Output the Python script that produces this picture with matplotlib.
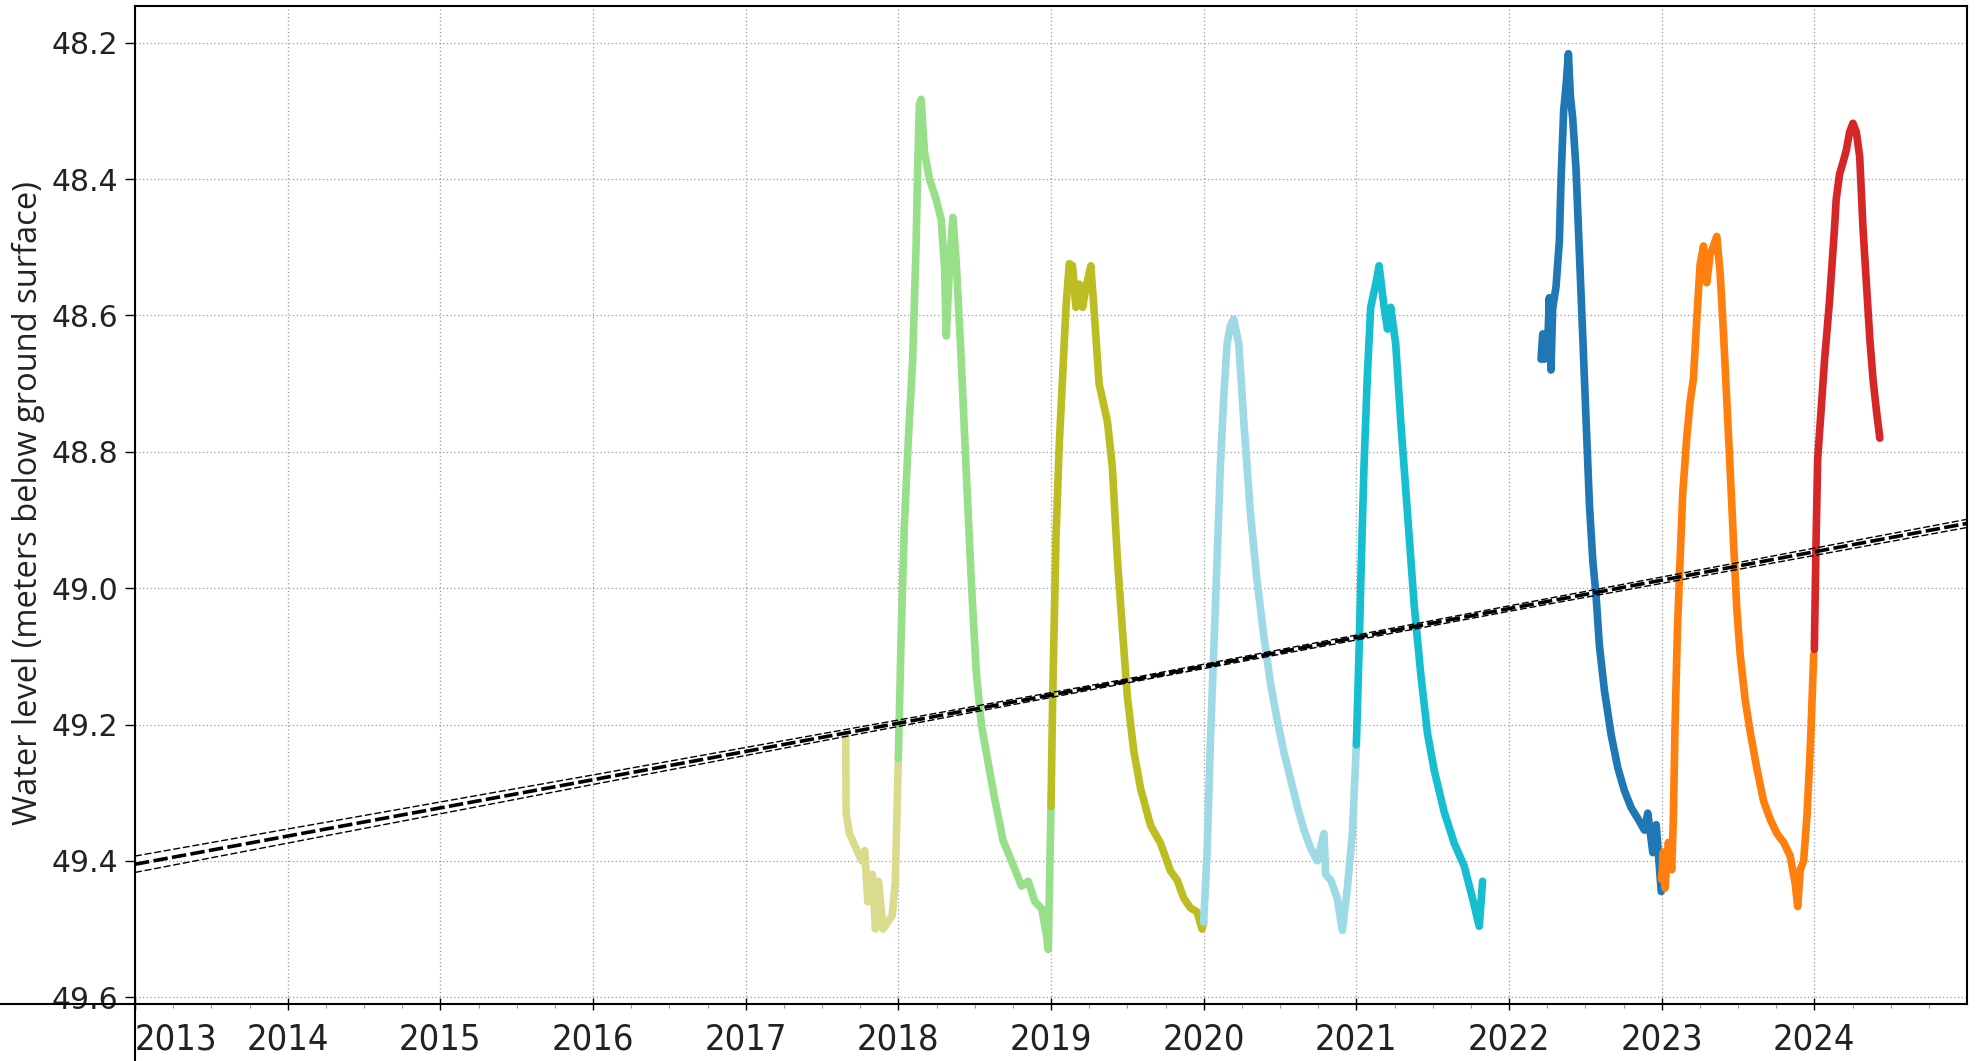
import matplotlib
matplotlib.use("Agg")
import matplotlib.pyplot as plt
from matplotlib.lines import Line2D

# seasonal water-level segments (decimal year, m below ground surface)
khaki_x = [2017.655, 2017.658, 2017.68, 2017.72, 2017.76, 2017.78, 2017.80, 2017.83, 2017.85,
           2017.87, 2017.90, 2017.93, 2017.96, 2017.98, 2018.0]
khaki_y = [49.215, 49.33, 49.36, 49.38, 49.40, 49.385, 49.46, 49.42, 49.50,
           49.43, 49.50, 49.49, 49.48, 49.43, 49.25]

green_x = [2018.0, 2018.018, 2018.039, 2018.066, 2018.094, 2018.116, 2018.127, 2018.138, 2018.149,
           2018.171, 2018.204, 2018.248, 2018.281, 2018.303, 2018.314, 2018.336, 2018.357, 2018.379,
           2018.412, 2018.445, 2018.478, 2018.511, 2018.544, 2018.588, 2018.632, 2018.686, 2018.741,
           2018.807, 2018.851, 2018.895, 2018.939, 2018.971, 2018.982, 2019.0]
green_y = [49.25, 49.075, 48.91, 48.78, 48.665, 48.50, 48.38, 48.29, 48.283,
           48.36, 48.40, 48.43, 48.46, 48.53, 48.63, 48.525, 48.456, 48.52,
           48.665, 48.83, 48.99, 49.125, 49.20, 49.256, 49.31, 49.37, 49.40,
           49.437, 49.43, 49.46, 49.47, 49.51, 49.53, 49.32]

olive_x = [2019.0, 2019.011, 2019.033, 2019.054, 2019.076, 2019.098, 2019.120, 2019.141, 2019.163,
           2019.185, 2019.207, 2019.228, 2019.261, 2019.283, 2019.315, 2019.370, 2019.402, 2019.435,
           2019.467, 2019.5, 2019.543, 2019.587, 2019.652, 2019.717, 2019.783, 2019.826, 2019.870,
           2019.913, 2019.957, 2019.989, 2020.0]
olive_y = [49.32, 49.159, 48.924, 48.79, 48.69, 48.588, 48.524, 48.527, 48.588,
           48.554, 48.588, 48.56, 48.527, 48.595, 48.70, 48.756, 48.823, 48.958,
           49.058, 49.159, 49.24, 49.294, 49.348, 49.374, 49.415, 49.428, 49.455,
           49.469, 49.475, 49.50, 49.49]

lcyan_x = [2020.0, 2020.022, 2020.044, 2020.066, 2020.088, 2020.109, 2020.131, 2020.153, 2020.175,
           2020.197, 2020.230, 2020.263, 2020.306, 2020.350, 2020.394, 2020.438, 2020.481, 2020.525,
           2020.569, 2020.613, 2020.656, 2020.700, 2020.744, 2020.788, 2020.799, 2020.832, 2020.875,
           2020.908, 2020.941, 2020.974, 2021.0]
lcyan_y = [49.49, 49.39, 49.225, 49.092, 48.958, 48.823, 48.722, 48.642, 48.615,
           48.605, 48.642, 48.756, 48.89, 48.99, 49.07, 49.14, 49.193, 49.24,
           49.28, 49.32, 49.354, 49.381, 49.40, 49.36, 49.42, 49.428, 49.455,
           49.502, 49.44, 49.36, 49.23]

cyan_x = [2021.0, 2021.018, 2021.033, 2021.050, 2021.072, 2021.094, 2021.127, 2021.149, 2021.182,
          2021.204, 2021.225, 2021.258, 2021.291, 2021.335, 2021.379, 2021.422, 2021.466, 2021.510,
          2021.575, 2021.641, 2021.707, 2021.761, 2021.805, 2021.827]
cyan_y = [49.23, 49.092, 48.958, 48.823, 48.689, 48.588, 48.554, 48.527, 48.588,
          48.62, 48.588, 48.642, 48.756, 48.89, 49.025, 49.126, 49.213, 49.267,
          49.328, 49.374, 49.408, 49.455, 49.496, 49.43]

blue_x = [2022.210, 2022.221, 2022.232, 2022.254, 2022.264, 2022.275, 2022.286, 2022.308, 2022.330,
          2022.341, 2022.358, 2022.374, 2022.389, 2022.402, 2022.417, 2022.439, 2022.461, 2022.483,
          2022.505, 2022.527, 2022.549, 2022.570, 2022.592, 2022.625, 2022.669, 2022.713, 2022.756,
          2022.800, 2022.844, 2022.887, 2022.909, 2022.942, 2022.964, 2022.986, 2022.997]
blue_y = [48.664, 48.627, 48.664, 48.64, 48.574, 48.68, 48.59, 48.558, 48.49,
          48.40, 48.30, 48.262, 48.216, 48.278, 48.31, 48.385, 48.508, 48.63,
          48.755, 48.878, 48.96, 49.01, 49.084, 49.15, 49.215, 49.264, 49.297,
          49.322, 49.338, 49.355, 49.33, 49.388, 49.347, 49.412, 49.445]

orange_x = [2023.0, 2023.011, 2023.022, 2023.044, 2023.066, 2023.077, 2023.088, 2023.103, 2023.120,
            2023.138, 2023.164, 2023.186, 2023.208, 2023.230, 2023.252, 2023.274, 2023.295, 2023.317,
            2023.339, 2023.361, 2023.383, 2023.405, 2023.427, 2023.449, 2023.470, 2023.492, 2023.514,
            2023.547, 2023.580, 2023.624, 2023.667, 2023.711, 2023.755, 2023.799, 2023.842, 2023.875,
            2023.891, 2023.908, 2023.930, 2023.952, 2023.974, 2023.996]
orange_y = [49.427, 49.387, 49.44, 49.373, 49.413, 49.333, 49.198, 49.063, 48.962,
            48.861, 48.78, 48.727, 48.693, 48.605, 48.525, 48.498, 48.552, 48.511,
            48.498, 48.484, 48.538, 48.626, 48.727, 48.828, 48.929, 49.03, 49.097,
            49.164, 49.211, 49.265, 49.312, 49.339, 49.36, 49.373, 49.393, 49.434,
            49.467, 49.413, 49.40, 49.333, 49.232, 49.097]

red_x = [2024.0, 2024.011, 2024.022, 2024.044, 2024.066, 2024.099, 2024.132, 2024.143, 2024.165,
         2024.187, 2024.209, 2024.231, 2024.253, 2024.275, 2024.297, 2024.319, 2024.341, 2024.363,
         2024.385, 2024.407, 2024.429]
red_y = [49.09, 48.934, 48.81, 48.74, 48.668, 48.58, 48.473, 48.43, 48.393,
         48.376, 48.358, 48.331, 48.318, 48.331, 48.367, 48.473, 48.553, 48.633,
         48.695, 48.74, 48.78]

segments = [
    (khaki_x, khaki_y, "#dbdb8d"),
    (green_x, green_y, "#98df8a"),
    (olive_x, olive_y, "#bcbd22"),
    (lcyan_x, lcyan_y, "#9edae5"),
    (cyan_x, cyan_y, "#17becf"),
    (blue_x, blue_y, "#1f77b4"),
    (orange_x, orange_y, "#ff7f0e"),
    (red_x, red_y, "#d62728"),
]

# linear trend and its confidence bounds
trend_x = [2013.0, 2016.0, 2019.5, 2022.0, 2025.0]
trend_y = [49.405, 49.281, 49.136, 49.030, 48.905]
trend_upper = [49.393, 49.274, 49.133, 49.026, 48.899]
trend_lower = [49.417, 49.288, 49.139, 49.034, 48.911]

years = list(range(2013, 2025))
yticks = [48.2, 48.4, 48.6, 48.8, 49.0, 49.2, 49.4, 49.6]

W, H = 1977, 1061
fig = plt.figure(figsize=(W / 100, H / 100), dpi=100)
L, R, T, B = 135, 1967, 6, 1004
ax = fig.add_axes([L / W, 1 - B / H, (R - L) / W, (B - T) / H])

for x, y, c in segments:
    ax.plot(x, y, color=c, lw=5.5, solid_joinstyle="round", solid_capstyle="round", zorder=3)

ax.plot(trend_x, trend_upper, color="black", lw=1.0, ls=(0, (5, 2)), zorder=4)
ax.plot(trend_x, trend_lower, color="black", lw=1.0, ls=(0, (5, 2)), zorder=4)
ax.plot(trend_x, trend_y, color="black", lw=2.6, ls=(0, (4, 1.2)), zorder=5)

ax.set_xlim(2013, 2025)
ax.set_ylim(49.61, 48.146)

ax.set_xticks(years)
ax.set_xticklabels([str(y) for y in years])
ax.set_xticks([y + q for y in range(2013, 2025) for q in (0.25, 0.5, 0.75)], minor=True)
ax.set_yticks(yticks)
ax.set_yticklabels([f"{v:.1f}" for v in yticks])

ax.grid(True, which="major", color="#9a9a9a", ls=(0, (1, 2)), lw=0.9, zorder=0)

ax.tick_params(axis="x", which="major", direction="inout", length=9, width=1,
               pad=9, labelsize=26, labelcolor="#222222")
ax.tick_params(axis="x", which="minor", direction="out", length=3, width=0.8, color="#999999")
ax.tick_params(axis="y", which="major", direction="out", length=7, width=1,
               pad=5, labelsize=21.5, labelcolor="#222222")

# narrow year labels
for lbl in ax.get_xticklabels():
    lbl.set_fontfamily(["DejaVu Sans"])
    lbl.set_fontstretch("condensed")
ax.get_xticklabels()[0].set_horizontalalignment("left")

for s in ax.spines.values():
    s.set_color("black")
    s.set_linewidth(1.5)

# axis lines run on past the plot corner
fig.add_artist(Line2D([L / W, L / W], [0, 1 - B / H], color="black", lw=1.5))
fig.add_artist(Line2D([0, L / W], [1 - B / H, 1 - B / H], color="black", lw=1.5))

fig.text(28 / W, 1 - 503 / H, "Water level (meters below ground surface)", rotation=90,
         ha="center", va="center", fontsize=23.5, family=["Open Sans", "DejaVu Sans"],
         color="#222222")

fig.savefig("out.png", dpi=100)
plt.close(fig)
